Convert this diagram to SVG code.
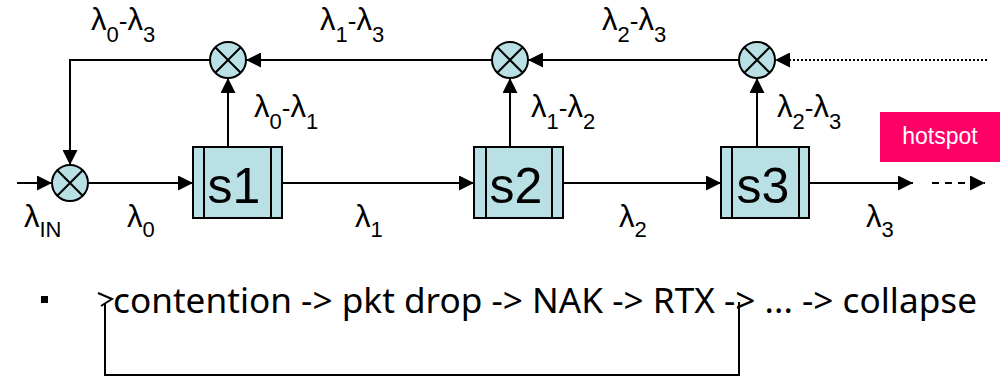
<svg xmlns="http://www.w3.org/2000/svg" width="1004" height="377" viewBox="0 0 1004 377">
<style>
  .ln{fill:none;stroke:#000;stroke-width:2}
  .mix{fill:#B9E0E4;stroke:#000;stroke-width:2}
  .box{fill:#B9E0E4;stroke:#000;stroke-width:2}
  .lbl{font-family:"Liberation Sans",Arial,sans-serif;font-size:26px;fill:#000}
  .L{font-size:31px}
  .sub{font-size:22px}
  .big{font-family:"Liberation Sans",Arial,sans-serif;font-size:50px;fill:#000;text-anchor:middle}
  .bt{font-family:"Comic Sans MS","Noto Sans",sans-serif;font-size:34px;fill:#000}
</style>
<defs>
  <marker id="ah" viewBox="0 0 10 10" markerUnits="userSpaceOnUse" markerWidth="16" markerHeight="15" refX="10" refY="5" orient="auto">
    <path d="M0,0 L10,5 L0,10 z" fill="#000"/>
  </marker>
  <g id="xm">
    <circle r="18" class="mix"/>
    <path d="M-12.7,-12.7 L12.7,12.7 M-12.7,12.7 L12.7,-12.7" class="ln"/>
  </g>
</defs>
<rect width="1004" height="377" fill="#fff"/>

<g id="connectors">
  <path class="ln" d="M17,183 L52,183" marker-end="url(#ah)"/>
  <path class="ln" d="M88,183 L193,183" marker-end="url(#ah)"/>
  <path class="ln" d="M282,183 L474,183" marker-end="url(#ah)"/>
  <path class="ln" d="M563,183 L721,183" marker-end="url(#ah)"/>
  <path class="ln" d="M809,183 L913,183" marker-end="url(#ah)"/>
  <path class="ln" d="M932,183 L985,183" stroke-dasharray="7 6" marker-end="url(#ah)"/>
  <path class="ln" d="M228,147 L228,78" marker-end="url(#ah)"/>
  <path class="ln" d="M510,147 L510,78" marker-end="url(#ah)"/>
  <path class="ln" d="M757,147 L757,78" marker-end="url(#ah)"/>
  <path class="ln" d="M987,60 L775,60" stroke-width="1.5" stroke-dasharray="2 2" marker-end="url(#ah)"/>
  <path class="ln" d="M739,60 L528,60" marker-end="url(#ah)"/>
  <path class="ln" d="M492,60 L246,60" marker-end="url(#ah)"/>
  <path class="ln" d="M210,60 L70,60 L70,165" marker-end="url(#ah)"/>
  <path class="ln" d="M739,302 L739,375 L105,375 L105,303"/>
  <path class="ln" d="M98,293 L112,299 L101,306"/>
</g>

<g id="mixer0"><use href="#xm" x="70" y="183"/></g>
<g id="mixer1"><use href="#xm" x="228" y="60"/></g>
<g id="mixer2"><use href="#xm" x="510" y="60"/></g>
<g id="mixer3"><use href="#xm" x="757" y="60"/></g>

<g id="s1">
  <rect class="box" x="193" y="147" width="89" height="71"/>
  <path class="ln" d="M204,147 V218 M271,147 V218"/>
  <text class="big" x="234" y="203">s1</text>
</g>
<g id="s2">
  <rect class="box" x="474" y="147" width="89" height="71"/>
  <path class="ln" d="M486,147 V218 M552,147 V218"/>
  <text class="big" x="516" y="203">s2</text>
</g>
<g id="s3">
  <rect class="box" x="721" y="147" width="88" height="71"/>
  <path class="ln" d="M732,147 V218 M799,147 V218"/>
  <text class="big" x="763" y="203">s3</text>
</g>

<g id="hotspot">
  <rect x="880" y="112" width="120" height="50" fill="#FF0066"/>
  <text x="940" y="144" font-family="Liberation Sans, Arial, sans-serif" font-size="23" fill="#fff" text-anchor="middle">hotspot</text>
</g>

<g id="labels">
  <text class="lbl" x="91" y="30"><tspan class="L">λ</tspan><tspan class="sub" dy="12">0</tspan><tspan dy="-12">-</tspan><tspan class="L">λ</tspan><tspan class="sub" dy="12">3</tspan></text>
  <text class="lbl" x="320" y="30"><tspan class="L">λ</tspan><tspan class="sub" dy="12">1</tspan><tspan dy="-12">-</tspan><tspan class="L">λ</tspan><tspan class="sub" dy="12">3</tspan></text>
  <text class="lbl" x="602" y="30"><tspan class="L">λ</tspan><tspan class="sub" dy="12">2</tspan><tspan dy="-12">-</tspan><tspan class="L">λ</tspan><tspan class="sub" dy="12">3</tspan></text>
  <text class="lbl" x="254" y="117"><tspan class="L">λ</tspan><tspan class="sub" dy="12">0</tspan><tspan dy="-12">-</tspan><tspan class="L">λ</tspan><tspan class="sub" dy="12">1</tspan></text>
  <text class="lbl" x="531" y="117"><tspan class="L">λ</tspan><tspan class="sub" dy="12">1</tspan><tspan dy="-12">-</tspan><tspan class="L">λ</tspan><tspan class="sub" dy="12">2</tspan></text>
  <text class="lbl" x="777" y="117"><tspan class="L">λ</tspan><tspan class="sub" dy="12">2</tspan><tspan dy="-12">-</tspan><tspan class="L">λ</tspan><tspan class="sub" dy="12">3</tspan></text>
  <text class="lbl" x="24" y="227"><tspan class="L">λ</tspan><tspan class="sub" dy="10">IN</tspan></text>
  <text class="lbl" x="127" y="227"><tspan class="L">λ</tspan><tspan class="sub" dy="10">0</tspan></text>
  <text class="lbl" x="355" y="227"><tspan class="L">λ</tspan><tspan class="sub" dy="10">1</tspan></text>
  <text class="lbl" x="619" y="227"><tspan class="L">λ</tspan><tspan class="sub" dy="10">2</tspan></text>
  <text class="lbl" x="866" y="227"><tspan class="L">λ</tspan><tspan class="sub" dy="10">3</tspan></text>
</g>

<g id="bottom">
  <rect x="41" y="296" width="7" height="7" fill="#000"/>
  <text class="bt" x="113" y="313" textLength="864" lengthAdjust="spacingAndGlyphs">contention -&gt; pkt drop -&gt; NAK -&gt; RTX -&gt; ... -&gt; collapse</text>
</g>
</svg>
